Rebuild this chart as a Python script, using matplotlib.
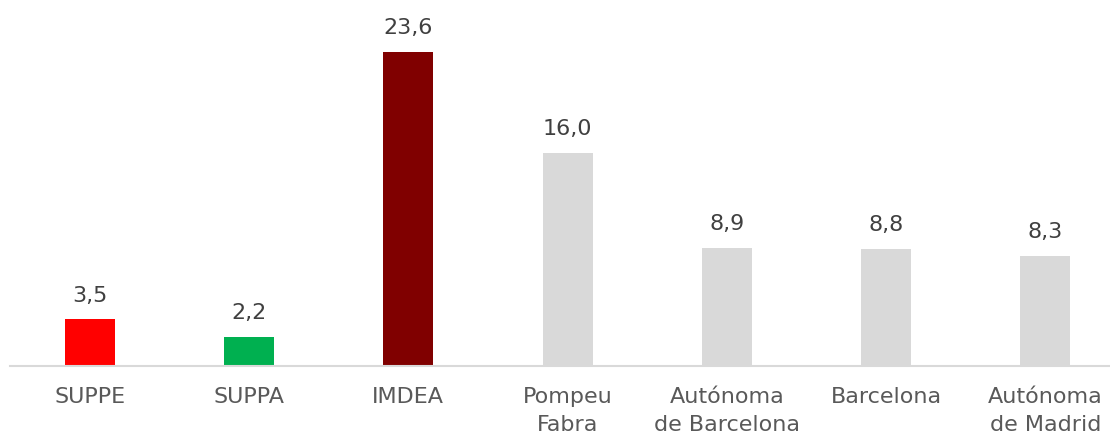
import matplotlib
matplotlib.use("Agg")
import matplotlib.pyplot as plt

# categories and values
categories = ["SUPPE", "SUPPA", "IMDEA", "Pompeu\nFabra", "Autónoma\nde Barcelona",
              "Barcelona", "Autónoma\nde Madrid"]
values = [3.5, 2.2, 23.6, 16.0, 8.9, 8.8, 8.3]
colors = ["#FF0000", "#00B050", "#800000", "#D9D9D9", "#D9D9D9", "#D9D9D9", "#D9D9D9"]

plt.rcParams["font.family"] = ["DejaVu Sans"]

fig = plt.figure(figsize=(11.1, 4.34), dpi=100)
ax = fig.add_axes([10 / 1110, 68 / 434, 1100 / 1110, 366 / 434])

x = range(len(categories))
bars = ax.bar(x, values, width=0.314, color=colors)

for xi, v in zip(x, values):
    ax.annotate(f"{v:.1f}".replace(".", ","), (xi, v), xytext=(0, 10),
                textcoords="offset points", ha="center", va="bottom",
                fontsize=16, color="#404040")

ax.set_xlim(-0.5, -0.5 + 1100 / 159.3)
ax.set_ylim(0, 27.5)
ax.set_xticks(list(x))
ax.set_xticklabels(categories, fontsize=16, color="#595959", linespacing=1.5)
ax.tick_params(axis="x", length=0, pad=15)
ax.set_yticks([])
for side in ["top", "left", "right"]:
    ax.spines[side].set_visible(False)
ax.spines["bottom"].set_color("#D9D9D9")
ax.spines["bottom"].set_linewidth(1.5)

fig.savefig("out.png", dpi=100)
